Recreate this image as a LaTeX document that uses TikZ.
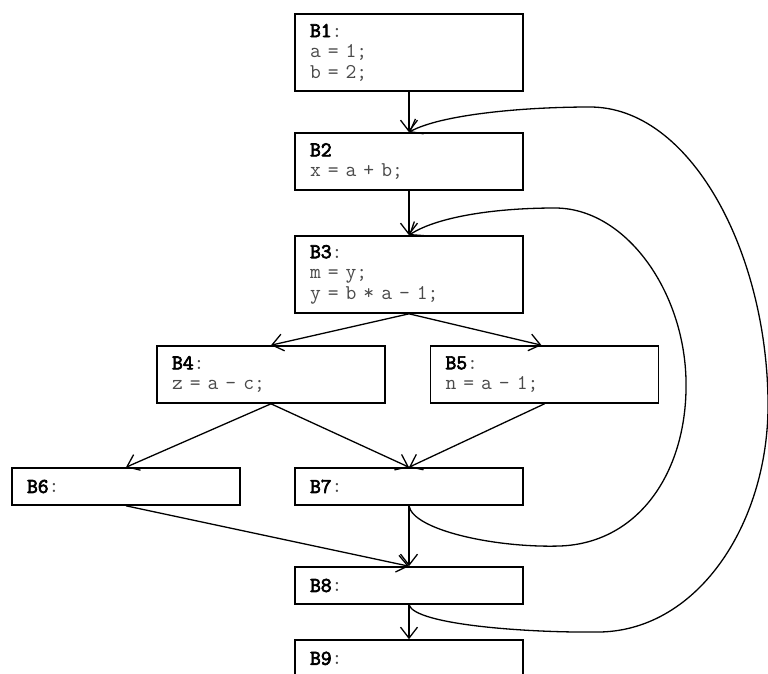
\documentclass[tikz,border=0pt]{standalone}
\usetikzlibrary{arrows.meta}
\definecolor{codegray}{HTML}{4A4A4A}
\begin{document}
\begin{tikzpicture}[x=1pt,y=-1pt,
  blockbox/.style={draw=black, line width=1.6pt, fill=white, rectangle,
    minimum width=228pt, text width=198pt, inner xsep=15pt, inner ysep=0pt,
    align=left, font=\ttfamily\fontsize{21}{20.5}\selectfont, text=codegray},
  flow/.style={line width=1.3pt, -{Straight Barb[length=11pt,width=17pt,line width=1.3pt]}}]
\useasboundingbox (0,0) rectangle (768,673);
\clip (0,0) rectangle (768,673);
\fill[white] (0,0) rectangle (768,673);
\newcommand{\boldlbl}[1]{\textcolor{black}{\special{pdf:literal direct 2 Tr 0.7 w}#1\special{pdf:literal direct 0 Tr}}}
\newcommand{\blbl}[1]{\boldlbl{#1}:}
\node[blockbox, minimum height=77pt] (b1) at (409,52.5) {\blbl{B1}\\a = 1;\\b = 2;};
\node[blockbox, minimum height=57pt] (b2) at (409,161.5) {\boldlbl{B2}\\x = a + b;};
\node[blockbox, minimum height=77pt] (b3) at (409,274.5) {\blbl{B3}\\m = y;\\y = b * a - 1;};
\node[blockbox, minimum height=57pt] (b4) at (271,374.5) {\blbl{B4}\\z = a - c;};
\node[blockbox, minimum height=57pt] (b5) at (544.5,374.5) {\blbl{B5}\\n = a - 1;};
\node[blockbox, minimum height=37pt] (b6) at (126,486.5) {\blbl{B6}};
\node[blockbox, minimum height=37pt] (b7) at (409,486.5) {\blbl{B7}};
\node[blockbox, minimum height=37pt] (b8) at (409,585.5) {\blbl{B8}};
\node[blockbox, minimum height=57pt] (b9) at (409,668.5) {\blbl{B9}\\\phantom{x}};
\draw[flow] (b1.south) -- (b2.north);
\draw[flow] (b2.south) -- (b3.north);
\draw[flow] (b3.south) -- (b4.north);
\draw[flow] (b3.south) -- ([xshift=-3pt]b5.north);
\draw[flow] (b4.south) -- (b6.north);
\draw[flow] (b4.south) -- (b7.north);
\draw[flow] (b5.south) -- (b7.north);
\draw[flow] (b6.south) -- (b8.north);
\draw[flow] (b7.south) -- (b8.north);
\draw[flow] (b8.south) -- (b9.north);
\draw[flow] (b7.south) .. controls (413,530) and (495,548) .. (560,546)
  .. controls (640,543) and (688,470) .. (686,380)
  .. controls (684,290) and (625,208) .. (555,208)
  .. controls (490,208) and (435,218) .. (b3.north);
\draw[flow] (b8.south) .. controls (415,625) and (530,633) .. (600,632)
  .. controls (700,630) and (770,520) .. (768,400)
  .. controls (766,250) and (690,107) .. (590,107)
  .. controls (520,107) and (440,115) .. (b2.north);
\end{tikzpicture}
\end{document}
